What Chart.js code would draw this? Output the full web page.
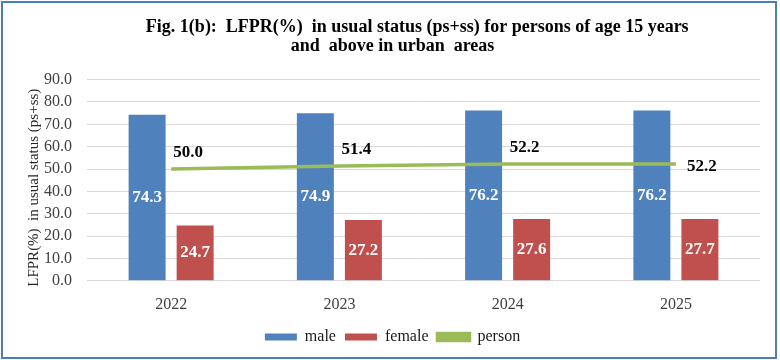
<!DOCTYPE html>
<html>
<head>
<meta charset="utf-8">
<script src="https://cdn.jsdelivr.net/npm/chart.js@4.4.1/dist/chart.umd.min.js"></script>
<style>
    body { margin: 0; background: #fff; }
    #frame {
        position: absolute; left: 1px; top: 1px; width: 776px; height: 358px;
        border: 2px solid #4a7ebb; box-sizing: border-box; background: #fff;
    }
    #chartBox { position: absolute; left: 0; top: 0; width: 772px; height: 354px; }
</style>
</head>
<body>
<div id="frame"><div id="chartBox"><canvas id="lfprChart"></canvas></div></div>
<script>
var years = ['2022', '2023', '2024', '2025'];
var maleValues = [74.3, 74.9, 76.2, 76.2];
var femaleValues = [24.7, 27.2, 27.6, 27.7];
var personValues = [50.0, 51.4, 52.2, 52.2];
var yTicks = [0, 10, 20, 30, 40, 50, 60, 70, 80, 90];

var serif = '"Liberation Serif", "Times New Roman", serif';

// value labels: white inside the bars, black beside the line
var valueLabels = {
    id: 'valueLabels',
    afterDatasetsDraw: function (chart) {
        var ctx = chart.ctx;
        ctx.save();
        ctx.font = 'bold 17px ' + serif;
        ctx.textBaseline = 'middle';
        chart.data.datasets.forEach(function (ds, di) {
            var meta = chart.getDatasetMeta(di);
            meta.data.forEach(function (el, i) {
                var txt = ds.data[i].toFixed(1);
                if (ds.type === 'line') {
                    ctx.fillStyle = '#000';
                    ctx.textAlign = 'left';
                    if (i === meta.data.length - 1) {
                        ctx.fillText(txt, el.x + 11, el.y + 3);
                    } else {
                        ctx.fillText(txt, el.x + 2, el.y - 16);
                    }
                } else {
                    ctx.fillStyle = '#fff';
                    ctx.textAlign = 'center';
                    ctx.fillText(txt, el.x, (el.y + el.base) / 2);
                }
            });
        });
        ctx.restore();
    }
};

var ctx = document.getElementById('lfprChart').getContext('2d');
var lfprChart = new Chart(ctx, {
    type: 'bar',
    data: {
        labels: years,
        datasets: [{
            label: 'male',
            data: maleValues,
            backgroundColor: '#4F81BD',
            order: 1,
            categoryPercentage: 0.571,
            barPercentage: 0.77
        }, {
            label: 'female',
            data: femaleValues,
            backgroundColor: '#C0504D',
            order: 1,
            categoryPercentage: 0.571,
            barPercentage: 0.77
        }, {
            type: 'line',
            label: 'person',
            data: personValues,
            borderColor: '#9BBB59',
            backgroundColor: '#9BBB59',
            borderWidth: 3.5,
            pointRadius: 0,
            fill: false,
            tension: 0,
            order: 0
        }]
    },
    plugins: [valueLabels],
    options: {
        responsive: true,
        maintainAspectRatio: false,
        animation: false,
        layout: { padding: { left: 22, right: 15, bottom: 2 } },
        plugins: {
            title: {
                display: true,
                // first line sits a little right of centre in the original
                text: [' '.repeat(11) + 'Fig. 1(b):  LFPR(%)  in usual status (ps+ss) for persons of age 15 years', 'and  above in urban  areas'],
                color: '#000',
                font: { family: serif, size: 18, weight: 'bold', lineHeight: 1.1 },
                padding: { top: 14, bottom: 23 }
            },
            legend: {
                position: 'bottom',
                labels: {
                    boxWidth: 32,
                    boxHeight: 7,
                    color: '#1a1a1a',
                    font: { family: serif, size: 16 },
                    padding: 9,
                    sort: function (a, b) { return a.datasetIndex - b.datasetIndex; }
                }
            },
            tooltip: { enabled: false }
        },
        scales: {
            x: {
                grid: { display: false },
                border: { display: false },
                ticks: { color: '#404040', padding: 6, font: { family: serif, size: 16 } }
            },
            y: {
                min: 0,
                max: 90,
                afterBuildTicks: function (axis) {
                    axis.ticks = yTicks.map(function (v) { return { value: v }; });
                },
                ticks: {
                    autoSkip: false,
                    color: '#404040',
                    font: { family: serif, size: 16 },
                    padding: 15,
                    callback: function (v) { return Number(v).toFixed(1); }
                },
                grid: { color: '#D9D9D9', lineWidth: 1, drawTicks: false },
                border: { display: false },
                title: {
                    display: true,
                    text: 'LFPR(%)  in usual status (ps+ss)' + ' '.repeat(4),
                    color: '#262626',
                    font: { family: serif, size: 15 },
                    padding: { top: 0, bottom: -14 }
                }
            }
        }
    }
});
</script>
</body>
</html>
